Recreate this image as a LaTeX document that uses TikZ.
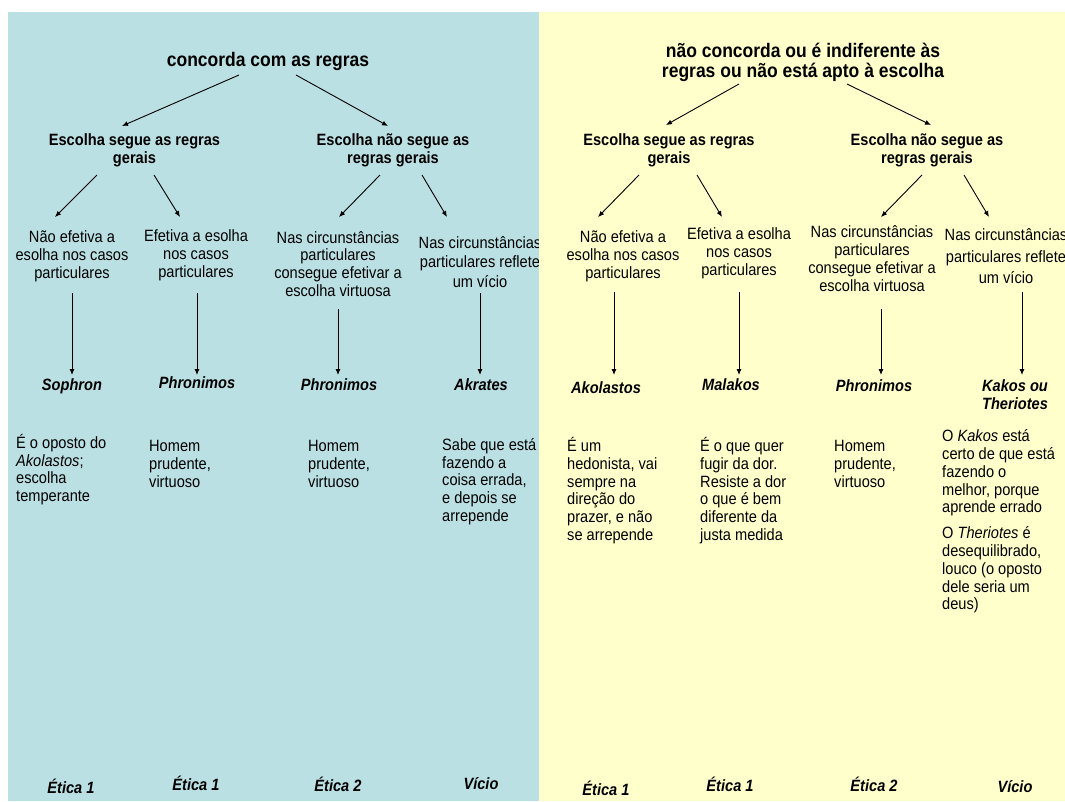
\documentclass[tikz,border=0pt]{standalone}
\usepackage{fontspec}
\setmainfont{Liberation Sans}[FakeStretch=0.893]
\usetikzlibrary{arrows.meta,calc}
\definecolor{panelblue}{RGB}{186,224,227}
\definecolor{panelyellow}{RGB}{255,255,204}
\begin{document}
\begin{tikzpicture}[x=1pt,y=-1pt,
  ttl/.style={font=\fontsize{19.6}{20}\selectfont\bfseries, inner sep=0pt, align=center},
  lvltwo/.style={font=\fontsize{16.35}{18}\selectfont\bfseries, inner sep=0pt, align=center},
  body/.style={font=\fontsize{16.35}{17.8}\selectfont, inner sep=0pt, align=center},
  persona/.style={font=\fontsize{16.35}{18}\selectfont\bfseries\itshape, inner sep=0pt, align=center},
  desc/.style={font=\fontsize{16.35}{17.8}\selectfont, inner sep=0pt, align=left, anchor=west},
  lab/.style={font=\fontsize{16.35}{17}\selectfont\bfseries\itshape, inner sep=0pt},
  arr/.style={line width=0.9pt, -{Latex[length=6pt,width=5pt]}}
]
\useasboundingbox (0,0) rectangle (1065,801);
% left panel
\fill[panelblue] (8,12) rectangle (539,801);

\node[ttl] (t1) at (268,61) {concorda com as regras};
\node[lvltwo] (l2a) at (134.5,150) {Escolha segue as regras\\gerais};
\node[lvltwo] (l2b) at (393,150) {Escolha não segue as\\regras gerais};

\node[body] (l3a) at (72,256.5) {Não efetiva a\\esolha nos casos\\particulares};
\node[body] (l3b) at (196,255) {Efetiva a esolha\\nos casos\\particulares};
\node[body] (l3c) at (338,264) {Nas circunstâncias\\particulares\\consegue efetivar a\\escolha virtuosa};
\node[body, font=\fontsize{16.35}{19.5}\selectfont] (l3d) at (480,262) {Nas circunstâncias\\particulares reflete\\um vício};

\node[persona] (n1) at (72,386) {Sophron};
\node[persona] (n2) at (197,383) {Phronimos};
\node[persona] (n3) at (339,385) {Phronimos};
\node[persona] (n4) at (481,385) {Akrates};

\node[desc] (d1) at (16,469.5) {É o oposto do\\\textit{Akolastos};\\escolha\\temperante};
\node[desc] (d2) at (149,464) {Homem\\prudente,\\virtuoso};
\node[desc] (d3) at (308,464) {Homem\\prudente,\\virtuoso};
\node[desc] (d4) at (442,481.5) {Sabe que está\\fazendo a\\coisa errada,\\e depois se\\arrepende};

\node[lab] (e1) at (71,786) {Ética 1};
\node[lab] (e2) at (196,783) {Ética 1};
\node[lab] (e3) at (338,784) {Ética 2};
\node[lab] (e4) at (481,784) {Vício};

\draw[arr] ($(t1)+(-29,14)$) -- ($(l2a)+(-12.5,-24)$);
\draw[arr] ($(t1)+(28,14)$) -- ($(l2b)+(-5,-24)$);
\draw[arr] ($(l2a)+(-37.5,25)$) -- ($(l3a)+(-17,-39.5)$);
\draw[arr] ($(l2a)+(19.5,25)$) -- ($(l3b)+(-16,-38)$);
\draw[arr] ($(l2b)+(-13,25)$) -- ($(l3c)+(1,-47)$);
\draw[arr] ($(l2b)+(29,25)$) -- ($(l3d)+(-33,-45)$);
\draw[arr] ($(l3a)+(0,36.5)$) -- ($(n1)+(0,-11)$);
\draw[arr] ($(l3b)+(1,38)$) -- ($(n2)+(0,-8)$);
\draw[arr] ($(l3c)+(0,45)$) -- ($(n3)+(-1,-10)$);
\draw[arr] ($(l3d)+(0,31)$) -- ($(n4)+(-1,-10)$);

% right panel
\fill[panelyellow] (539,12) rectangle (1065,801);

\node[ttl] (t2) at (803,62) {não concorda ou é indiferente às\\regras ou não está apto à escolha};
\node[lvltwo] (r2a) at (669,150) {Escolha segue as regras\\gerais};
\node[lvltwo] (r2b) at (927,150) {Escolha não segue as\\regras gerais};

\node[body] (r3a) at (623,256.5) {Não efetiva a\\esolha nos casos\\particulares};
\node[body] (r3b) at (739,253.5) {Efetiva a esolha\\nos casos\\particulares};
\node[body, font=\fontsize{16.35}{18}\selectfont] (r3c) at (872,259) {Nas circunstâncias\\particulares\\consegue efetivar a\\escolha virtuosa};
\node[body, font=\fontsize{16.35}{21.5}\selectfont] (r3d) at (1006,256.5) {Nas circunstâncias\\particulares reflete\\um vício};

\node[persona] (m1) at (606,388) {Akolastos};
\node[persona] (m2) at (731,385) {Malakos};
\node[persona] (m3) at (874,386) {Phronimos};
\node[persona] (m4) at (1015,395) {Kakos ou\\Theriotes};

\node[desc] (f1) at (567,490.5) {É um\\hedonista, vai\\sempre na\\direção do\\prazer, e não\\se arrepende};
\node[desc] (f2) at (700,490.5) {É o que quer\\fugir da dor.\\Resiste a dor\\o que é bem\\diferente da\\justa medida};
\node[desc] (f3) at (834,464) {Homem\\prudente,\\virtuoso};
\node[desc] (f4) at (942,521.5) {O \textit{Kakos} está\\certo de que está\\fazendo o\\melhor, porque\\aprende errado\\[8pt]O \textit{Theriotes} é\\desequilibrado,\\louco (o oposto\\dele seria um\\deus)};

\node[lab] (g1) at (606,788) {Ética 1};
\node[lab] (g2) at (730,784) {Ética 1};
\node[lab] (g3) at (874,784) {Ética 2};
\node[lab] (g4) at (1015,787) {Vício};

\draw[arr] ($(t2)+(-64,22)$) -- ($(r2a)+(-3,-25)$);
\draw[arr] ($(t2)+(44,22)$) -- ($(r2b)+(4,-25)$);
\draw[arr] ($(r2a)+(-30,25)$) -- ($(r3a)+(-25,-39.5)$);
\draw[arr] ($(r2a)+(28,25)$) -- ($(r3b)+(-17,-36.5)$);
\draw[arr] ($(r2b)+(-5,25)$) -- ($(r3c)+(9,-42)$);
\draw[arr] ($(r2b)+(37,25)$) -- ($(r3d)+(-17,-39.5)$);
\draw[arr] ($(r3a)+(-9,35.5)$) -- ($(m1)+(8,-13)$);
\draw[arr] ($(r3b)+(0,38.5)$) -- ($(m2)+(8,-10)$);
\draw[arr] ($(r3c)+(9,50)$) -- ($(m3)+(7,-11)$);
\draw[arr] ($(r3d)+(16,35.5)$) -- ($(m4)+(7,-20)$);
\end{tikzpicture}
\end{document}
